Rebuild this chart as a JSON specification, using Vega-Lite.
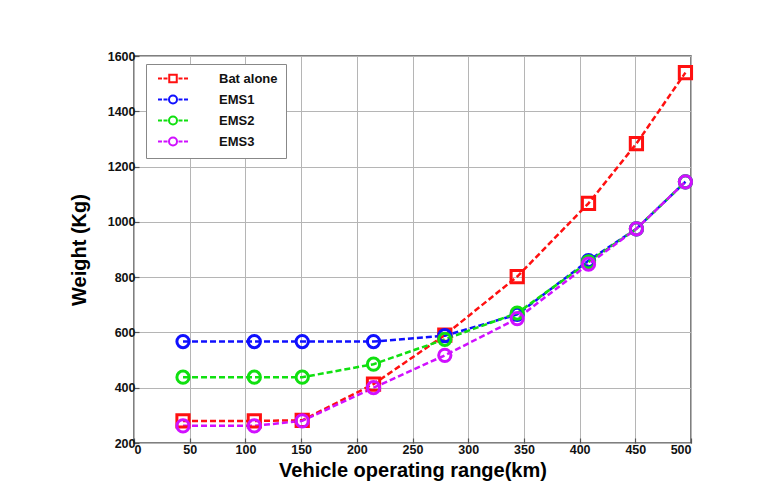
{
  "$schema": "https://vega.github.io/schema/vega-lite/v6.json",
  "width": 557,
  "height": 387,
  "autosize": {"type": "none"},
  "padding": {"left": 134, "top": 56, "right": 87, "bottom": 55},
  "background": "white",
  "config": {
    "font": "Liberation Sans",
    "view": {"stroke": "#555", "strokeWidth": 1.5},
    "axis": {
      "labelFont": "Liberation Sans",
      "labelFontWeight": "bold",
      "labelFontSize": 12.5,
      "labelColor": "#111",
      "titleFont": "Liberation Sans",
      "titleFontWeight": "bold",
      "titleFontSize": 20,
      "titleColor": "#000",
      "domain": false,
      "grid": true,
      "gridColor": "#b5b5b5",
      "gridWidth": 1,
      "tickColor": "#555",
      "tickSize": -5,
      "tickWidth": 1.2
    }
  },
  "data": {
    "values": [
      {"series": "Bat alone", "range": 44, "weight": 280},
      {"series": "Bat alone", "range": 108, "weight": 280},
      {"series": "Bat alone", "range": 151, "weight": 282},
      {"series": "Bat alone", "range": 215, "weight": 413},
      {"series": "Bat alone", "range": 279, "weight": 590},
      {"series": "Bat alone", "range": 344, "weight": 802},
      {"series": "Bat alone", "range": 408, "weight": 1067},
      {"series": "Bat alone", "range": 451, "weight": 1283},
      {"series": "Bat alone", "range": 495, "weight": 1540},
      {"series": "EMS1", "range": 44, "weight": 567},
      {"series": "EMS1", "range": 108, "weight": 567},
      {"series": "EMS1", "range": 151, "weight": 567},
      {"series": "EMS1", "range": 215, "weight": 567},
      {"series": "EMS1", "range": 279, "weight": 588},
      {"series": "EMS1", "range": 344, "weight": 665},
      {"series": "EMS1", "range": 408, "weight": 860},
      {"series": "EMS1", "range": 451, "weight": 975},
      {"series": "EMS1", "range": 495, "weight": 1145},
      {"series": "EMS2", "range": 44, "weight": 438},
      {"series": "EMS2", "range": 108, "weight": 438},
      {"series": "EMS2", "range": 151, "weight": 438},
      {"series": "EMS2", "range": 215, "weight": 485},
      {"series": "EMS2", "range": 279, "weight": 575},
      {"series": "EMS2", "range": 344, "weight": 670},
      {"series": "EMS2", "range": 408, "weight": 855},
      {"series": "EMS2", "range": 451, "weight": 975},
      {"series": "EMS2", "range": 495, "weight": 1145},
      {"series": "EMS3", "range": 44, "weight": 262},
      {"series": "EMS3", "range": 108, "weight": 262},
      {"series": "EMS3", "range": 151, "weight": 280},
      {"series": "EMS3", "range": 215, "weight": 400},
      {"series": "EMS3", "range": 279, "weight": 517},
      {"series": "EMS3", "range": 344, "weight": 650},
      {"series": "EMS3", "range": 408, "weight": 847},
      {"series": "EMS3", "range": 451, "weight": 975},
      {"series": "EMS3", "range": 495, "weight": 1145}
    ]
  },
  "encoding": {
    "x": {
      "field": "range",
      "type": "quantitative",
      "scale": {"domain": [0, 500], "nice": false},
      "axis": {"values": [0, 50, 100, 150, 200, 250, 300, 350, 400, 450, 500], "title": "Vehicle operating range(km)", "titlePadding": 5, "labelPadding": 5, "format": "d"}
    },
    "y": {
      "field": "weight",
      "type": "quantitative",
      "scale": {"domain": [200, 1600], "nice": false, "zero": false},
      "axis": {"values": [200, 400, 600, 800, 1000, 1200, 1400, 1600], "title": "Weight (Kg)", "titlePadding": 18, "labelPadding": 4, "format": "d"}
    },
    "color": {
      "field": "series",
      "type": "nominal",
      "sort": ["Bat alone", "EMS1", "EMS2", "EMS3"],
      "scale": {"domain": ["Bat alone", "EMS1", "EMS2", "EMS3"], "range": ["#ff1010", "#1010ff", "#10e010", "#d010ff"]},
      "legend": {
        "title": null,
        "orient": "none",
        "legendX": 12,
        "legendY": 8,
        "fillColor": "white",
        "strokeColor": "#888",
        "padding": 8,
        "rowPadding": 4,
        "symbolSize": 100,
        "symbolStrokeWidth": 2,
        "labelOffset": 52,
        "labelFont": "Liberation Sans",
        "labelFontWeight": "bold",
        "labelFontSize": 13,
        "labelColor": "#111",
        "encode": {
          "symbols": {
            "update": {
              "fill": {"value": "transparent"},
              "shape": {"signal": "datum.value === 'Bat alone' ? 'M-0.5,0H0.3M0.6,0H1.4M3.6,0H4.4M4.7,0H5.5M1.75,-0.75H3.25V0.75H1.75Z' : 'M-0.5,0H0.3M0.6,0H1.4M3.6,0H4.4M4.7,0H5.5M3.3,0A0.8,0.8 0 1 1 1.7,0A0.8,0.8 0 1 1 3.3,0Z'"}
            }
          }
        }
      }
    }
  },
  "layer": [
    {
      "mark": {"type": "line", "strokeDash": [6, 3], "strokeWidth": 2.5}
    },
    {
      "transform": [{"filter": "datum.series === 'Bat alone'"}],
      "mark": {"type": "point", "shape": "square", "filled": false, "strokeWidth": 3, "size": 150, "opacity": 1}
    },
    {
      "transform": [{"filter": "datum.series !== 'Bat alone'"}],
      "mark": {"type": "point", "shape": "circle", "filled": false, "strokeWidth": 3, "size": 150, "opacity": 1}
    }
  ]
}
